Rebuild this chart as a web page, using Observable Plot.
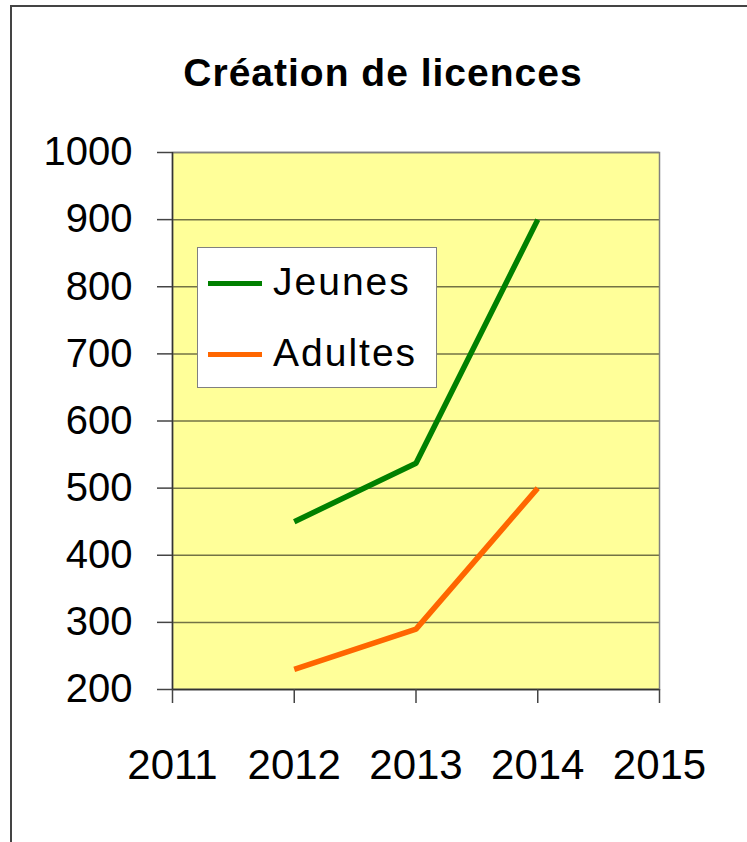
<!DOCTYPE html>
<html>
<head>
<meta charset="utf-8">
<script src="https://cdn.jsdelivr.net/npm/d3@7"></script>
<script src="https://cdn.jsdelivr.net/npm/@observablehq/plot@0.6"></script>
<style>
  html, body { margin: 0; padding: 0; background: #fff; }
  #page { position: relative; width: 747px; height: 842px; overflow: hidden; font-family: "Liberation Sans", Arial, sans-serif; }
  #border { position: absolute; left: 10px; top: 5px; width: 800px; height: 900px; border-left: 2px solid #444; border-top: 2px solid #444; box-sizing: border-box; }
  #title { position: absolute; left: 83px; width: 600px; top: 51px; text-align: center; font-weight: bold; font-size: 39px; letter-spacing: 1px; color: #000; }
  #chart { position: absolute; left: 0; top: 0; }
  #legend { position: absolute; left: 197px; top: 247px; width: 240px; height: 141px; background: #fff; border: 1.5px solid #808080; box-sizing: border-box; }
  .lrow { position: absolute; left: 0; height: 0; }
  .lline { position: absolute; left: 10px; width: 54px; height: 5px; top: -2.5px; }
  .ltext { position: absolute; left: 75px; top: -23px; font-size: 39px; letter-spacing: 2px; line-height: 44px; white-space: nowrap; color: #000; }
</style>
</head>
<body>
<div id="page">
  <div id="border"></div>
  <div id="title">Création de licences</div>
  <div id="chart"></div>
  <div id="legend"></div>
</div>
<script>
const years = [2012, 2013, 2014];
const jeunes = [450, 537, 900];
const adultes = [230, 290, 500];
const seriesNames = ["Jeunes", "Adultes"];
const seriesColors = ["#008000", "#FF6600"];
const yTicks = [200, 300, 400, 500, 600, 700, 800, 900, 1000];
const xTicks = [2011, 2012, 2013, 2014, 2015];

const data = [
  ...years.map((year, i) => ({year, value: jeunes[i], series: seriesNames[0]})),
  ...years.map((year, i) => ({year, value: adultes[i], series: seriesNames[1]}))
];

const plot = Plot.plot({
  width: 747,
  height: 842,
  marginLeft: 172,
  marginRight: 88,
  marginTop: 152,
  marginBottom: 153,
  style: { fontFamily: "Liberation Sans, Arial, sans-serif", fontSize: "40px", background: "transparent", color: "#000" },
  x: { domain: [2011, 2015], label: null },
  y: { domain: [200, 1000], label: null },
  color: { domain: seriesNames, range: seriesColors },
  marks: [
    Plot.frame({ fill: "#FFFF99", stroke: null }),
    Plot.ruleY(yTicks, { stroke: "#000", strokeOpacity: 0.55, strokeWidth: 1.5 }),
    Plot.frame({ stroke: "#808080", strokeWidth: 1.5 }),
    Plot.ruleX([2011], { stroke: "#333", strokeWidth: 1.5 }),
    Plot.ruleY([200], { stroke: "#333", strokeWidth: 1.5 }),
    Plot.axisY({ ticks: yTicks, tickFormat: d => String(d), tickSize: 15, tickPadding: 25, stroke: "#444", strokeWidth: 1.5, fontSize: 40, label: null }),
    Plot.axisX({ ticks: xTicks, tickFormat: d => String(d), tickSize: 14, tickPadding: 46, stroke: "#444", strokeWidth: 1.5, fontSize: 42, label: null }),
    Plot.line(data, { x: "year", y: "value", z: "series", stroke: "series", strokeWidth: 5.5, strokeLinejoin: "miter", strokeLinecap: "butt" })
  ]
});
document.getElementById("chart").appendChild(plot);

const legend = document.getElementById("legend");
const rowTops = [35, 106];
seriesNames.forEach((name, i) => {
  const row = document.createElement("div");
  row.className = "lrow";
  row.style.top = rowTops[i] + "px";
  const line = document.createElement("div");
  line.className = "lline";
  line.style.background = seriesColors[i];
  const txt = document.createElement("div");
  txt.className = "ltext";
  txt.textContent = name;
  row.appendChild(line);
  row.appendChild(txt);
  legend.appendChild(row);
});
</script>
</body>
</html>
